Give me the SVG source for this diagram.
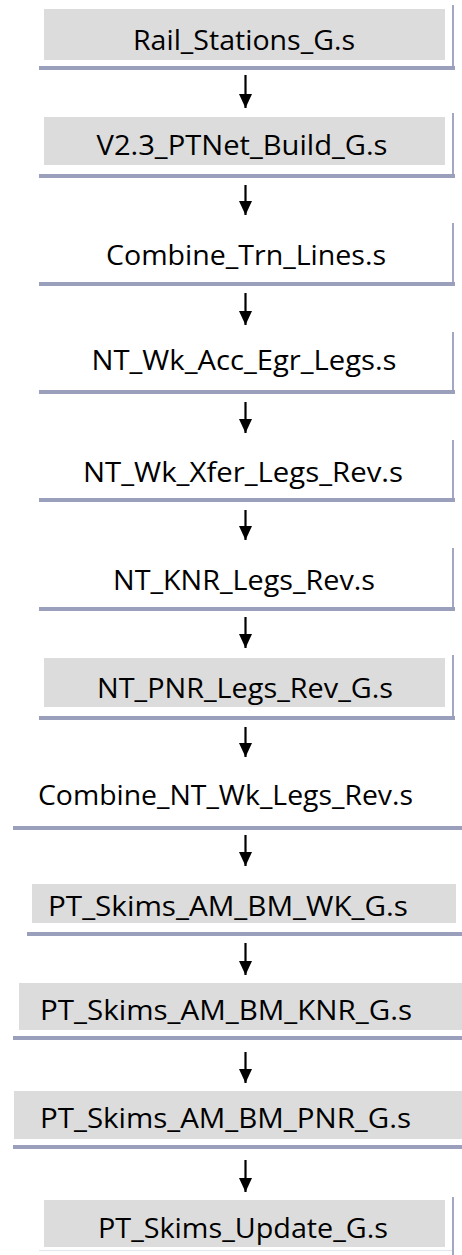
<svg xmlns="http://www.w3.org/2000/svg" width="462" height="1255" viewBox="0 0 462 1255">
<style>
.bg{fill:#ffffff}
.box{fill:#dcdcdc}
.rl{fill:#a3a7c2}
.bl{fill:#9a9fbc}
.lbl{font-family:"Open Sans","Liberation Sans",sans-serif;font-size:26.5px;fill:#000000}
.c{text-anchor:middle}
.arr{stroke:#000000;stroke-width:2.2;fill:none;marker-end:url(#ah)}
</style>
<defs>
<marker id="ah" markerUnits="userSpaceOnUse" markerWidth="13" markerHeight="14" refX="6.5" refY="14" orient="0" viewBox="0 0 13 14">
<path d="M0,0 L13,0 L6.5,14 z" fill="#000000"/>
</marker>
</defs>
<rect class="bg" x="0" y="0" width="462" height="1255"/>
<g id="n1">
<rect class="box" x="44" y="9" width="401" height="51"/>
<rect class="rl" x="452" y="5" width="2" height="65"/>
<rect class="bl" x="39" y="66" width="416" height="4"/>
<text class="lbl c" x="244" y="50" textLength="222" lengthAdjust="spacingAndGlyphs">Rail_Stations_G.s</text>
</g>
<g id="n2">
<rect class="box" x="44" y="117" width="401" height="48"/>
<rect class="rl" x="452" y="113" width="2" height="65"/>
<rect class="bl" x="39" y="174" width="416" height="4"/>
<text class="lbl c" x="242" y="155" textLength="291" lengthAdjust="spacingAndGlyphs">V2.3_PTNet_Build_G.s</text>
</g>
<g id="n3">
<rect class="rl" x="452" y="223" width="2" height="63"/>
<rect class="bl" x="39" y="282" width="416" height="4"/>
<text class="lbl c" x="246" y="265" textLength="280" lengthAdjust="spacingAndGlyphs">Combine_Trn_Lines.s</text>
</g>
<g id="n4">
<rect class="rl" x="452" y="332" width="2" height="62"/>
<rect class="bl" x="39" y="390" width="416" height="4"/>
<text class="lbl c" x="244" y="370" textLength="305" lengthAdjust="spacingAndGlyphs">NT_Wk_Acc_Egr_Legs.s</text>
</g>
<g id="n5">
<rect class="rl" x="452" y="440" width="2" height="62"/>
<rect class="bl" x="39" y="498" width="416" height="4"/>
<text class="lbl c" x="243" y="482" textLength="320" lengthAdjust="spacingAndGlyphs">NT_Wk_Xfer_Legs_Rev.s</text>
</g>
<g id="n6">
<rect class="rl" x="452" y="548" width="2" height="62"/>
<rect class="bl" x="39" y="607" width="416" height="4"/>
<text class="lbl c" x="244" y="590" textLength="262" lengthAdjust="spacingAndGlyphs">NT_KNR_Legs_Rev.s</text>
</g>
<g id="n7">
<rect class="box" x="44" y="658" width="401" height="49"/>
<rect class="rl" x="452" y="655" width="2" height="65"/>
<rect class="bl" x="39" y="716" width="416" height="4"/>
<text class="lbl c" x="245" y="698" textLength="296" lengthAdjust="spacingAndGlyphs">NT_PNR_Legs_Rev_G.s</text>
</g>
<g id="n8">
<rect class="bl" x="13" y="826" width="449" height="4"/>
<text class="lbl" x="38" y="805" textLength="375" lengthAdjust="spacingAndGlyphs">Combine_NT_Wk_Legs_Rev.s</text>
</g>
<g id="n9">
<rect class="box" x="32" y="884" width="424" height="39"/>
<rect class="bl" x="27" y="932" width="435" height="4"/>
<text class="lbl" x="48" y="916" textLength="360" lengthAdjust="spacingAndGlyphs">PT_Skims_AM_BM_WK_G.s</text>
</g>
<g id="n10">
<rect class="box" x="19" y="983" width="443" height="47"/>
<rect class="bl" x="13" y="1036" width="449" height="4"/>
<text class="lbl" x="40" y="1020" textLength="372" lengthAdjust="spacingAndGlyphs">PT_Skims_AM_BM_KNR_G.s</text>
</g>
<g id="n11">
<rect class="box" x="14" y="1091" width="448" height="48"/>
<rect class="bl" x="13" y="1145" width="449" height="4"/>
<text class="lbl" x="40" y="1128" textLength="371" lengthAdjust="spacingAndGlyphs">PT_Skims_AM_BM_PNR_G.s</text>
</g>
<g id="n12">
<rect class="box" x="44" y="1200" width="401" height="47"/>
<rect class="rl" x="452" y="1197" width="2" height="58"/>
<rect class="rl" x="39" y="1250" width="413" height="1" opacity="0.3"/>
<text class="lbl c" x="243" y="1238" textLength="290" lengthAdjust="spacingAndGlyphs">PT_Skims_Update_G.s</text>
</g>
<g id="connectors">
<line class="arr" x1="245.5" y1="75" x2="245.5" y2="108"/>
<line class="arr" x1="245.5" y1="185" x2="245.5" y2="215"/>
<line class="arr" x1="245.5" y1="293" x2="245.5" y2="325"/>
<line class="arr" x1="245.5" y1="402" x2="245.5" y2="433"/>
<line class="arr" x1="245.5" y1="510" x2="245.5" y2="540"/>
<line class="arr" x1="245.5" y1="617" x2="245.5" y2="648"/>
<line class="arr" x1="245.5" y1="727" x2="245.5" y2="757"/>
<line class="arr" x1="245.5" y1="835" x2="245.5" y2="866"/>
<line class="arr" x1="245.5" y1="943" x2="245.5" y2="975"/>
<line class="arr" x1="245.5" y1="1052" x2="245.5" y2="1083"/>
<line class="arr" x1="245.5" y1="1160" x2="245.5" y2="1192"/>
</g>
</svg>
